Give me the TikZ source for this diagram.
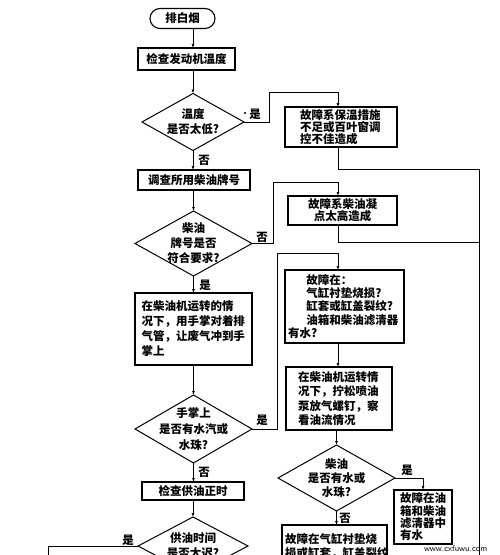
\documentclass[tikz,border=0pt]{standalone}
\usepackage{fontspec}
\newfontfamily\cjk{Noto Sans CJK SC}
\newcommand\myzh[1]{\cjk\bfseries\fontsize{11.5}{#1}\selectfont}
\usetikzlibrary{shapes.geometric,arrows.meta}
\begin{document}
\begin{tikzpicture}[x=1pt,y=-1pt,
  every node/.style={inner sep=0pt, outer sep=0pt},
  box/.style={draw, line width=1.1pt, align=center, font=\myzh{14}},
  term/.style={draw, line width=1.1pt, rounded corners=10pt, font=\myzh{14}},
  dia/.style={draw, diamond, line width=1pt},
  conn/.style={line width=0.9pt},
  arr/.style={conn, -{Latex[length=4pt,width=3pt]}},
  lab/.style={font=\myzh{12}},
]
\useasboundingbox (0,0) rectangle (500,555);
\coordinate (cx) at (338,0);

% main column
\node[term, minimum width=65, minimum height=20] (t) at (182.5,18.5) {排白烟};
\node[box, minimum width=97, minimum height=22] (b1) at (186.5,59) {检查发动机温度};
\node[dia, minimum width=102, minimum height=57,
  label={[align=center, font=\myzh{15}]center:{温度\\是否太低?}}] (d1) at (193,122) {};
\node[box, minimum width=112, minimum height=20] (b2) at (194,180) {调查所用柴油牌号};
\node[dia, minimum width=117, minimum height=65,
  label={[align=center, font=\myzh{15}]center:{柴油\\牌号是否\\符合要求?}}] (d2) at (193.5,243.5) {};
\node[box, minimum width=117, minimum height=72, text width=104, align=left, font=\myzh{15}] (b4) at (193.5,329)
  {在柴油机运转的情\\况下，用手掌对着排\\气管，让废气冲到手\\掌上};
\node[dia, minimum width=117, minimum height=68,
  label={[align=center, font=\myzh{16}]center:{手掌上\\是否有水汽或\\水珠?}}] (d3) at (193.5,429) {};
\node[box, minimum width=102, minimum height=18] (b5) at (193,491) {检查供油正时};
\node[dia, minimum width=110, minimum height=58,
  label={[align=center, font=\myzh{15}]center:{供油时间\\是否太迟?}}] (d5) at (193,546) {};

% right column
\node[box, minimum width=112, minimum height=40, text width=82, align=left, font=\myzh{12}] (r1) at (341,127)
  {故障系保温措施\\不足或百叶窗调\\控不佳造成};
\node[box, minimum width=109, minimum height=29, font=\myzh{12}] (r2) at (342.5,210.5)
  {故障系柴油凝\\点太高造成};
\node[box, minimum width=119, minimum height=73, text width=113, align=left, font=\myzh{13.25}] (r3) at (344.5,306.5)
  {\hspace*{1.6em}故障在：\\\hspace*{1.6em}气缸衬垫烧损?\\\hspace*{1.6em}缸套或缸盖裂纹?\\\hspace*{1.6em}油箱和柴油滤清器\\有水?};
\node[box, minimum width=106, minimum height=63, text width=82, align=left, font=\myzh{14.5}] (r4) at (339,398.5)
  {在柴油机运转情\\况下，拧松喷油\\泵放气螺钉，察\\看油流情况};
\node[dia, minimum width=117, minimum height=66,
  label={[align=center, font=\myzh{14}]center:{柴油\\是否有水或\\水珠?}}] (d4) at (336.5,478) {};
\node[box, minimum width=58, minimum height=54, text width=46, align=left, font=\myzh{12.3}] (r5) at (423,517)
  {故障在油\\箱和柴油\\滤清器中\\有水};
\node[box, anchor=north west, minimum width=105, text width=99, align=left, inner ysep=8pt, inner xsep=3pt, font=\myzh{14}] (r6) at (282,525)
  {故障在气缸衬垫烧\\损或缸套，缸盖裂纹};

\node[font=\sffamily\fontsize{8.5}{9}\selectfont, anchor=west] (wm) at (424,549) {www.cxfuwu.com};

% main connectors
\draw[arr] (t.south -| d1.north) -- (b1.north -| d1.north);
\draw[arr] (b1.south -| d1.north) -- (d1.north);
\draw[arr] (d1.south) -- (b2.north -| d1.south);
\draw[arr] (b2.south -| d2.north) -- (d2.north);
\draw[arr] (d2.south) -- (b4.north -| d2.south);
\draw[arr] (b4.south -| d3.north) -- (d3.north);
\draw[arr] (d3.south) -- (b5.north -| d3.south);
\draw[arr] (b5.south -| d5.north) -- (d5.north);

% branches
\coordinate (k1) at (269,92);
\coordinate (k2) at (273,182);
\coordinate (k3) at (277,253);
\draw[arr] (d1.east) -- (k1 |- d1.east) -- (k1) -| (cx |- r1.north);
\draw[arr] (d2.east) -- (k2 |- d2.east) -- (k2) -| (cx |- r2.north);
\draw[arr] (d3.east) -- (k3 |- d3.east) -- (k3) -| (cx |- r3.north);
\draw[arr] (r3.south -| cx) -- (r4.north -| cx);
\draw[arr] (r4.south -| d4.north) -- (d4.north);
\draw[arr] (d4.east) -| (r5.north);
\draw[arr] (d4.south) -- (r6.north -| d4.south);

% right rail
\coordinate (rt) at (479,169);
\coordinate (rm) at (479,242);
\coordinate (rb) at (479,560);
\draw[conn] (r1.south -| cx) |- (rt) -- (rb);
\draw[conn] (r2.south -| cx) |- (rm);

% left branch
\coordinate (lb) at (48,560);
\draw[conn] (d5.west) -| (lb);

% labels
\fill (245,113) circle (1.1pt);
\node[lab] (l1) at (255,114) {是};
\node[lab] (l2) at (204,160) {否};
\node[lab] (l3) at (262,237) {否};
\node[lab] (l4) at (205,285) {是};
\node[lab] (l5) at (262,420) {是};
\node[lab] (l6) at (204,472) {否};
\node[lab] (l7) at (407,470) {是};
\node[lab] (l8) at (345,518) {否};
\node[lab] (l9) at (128,540) {是};
\end{tikzpicture}
\end{document}
